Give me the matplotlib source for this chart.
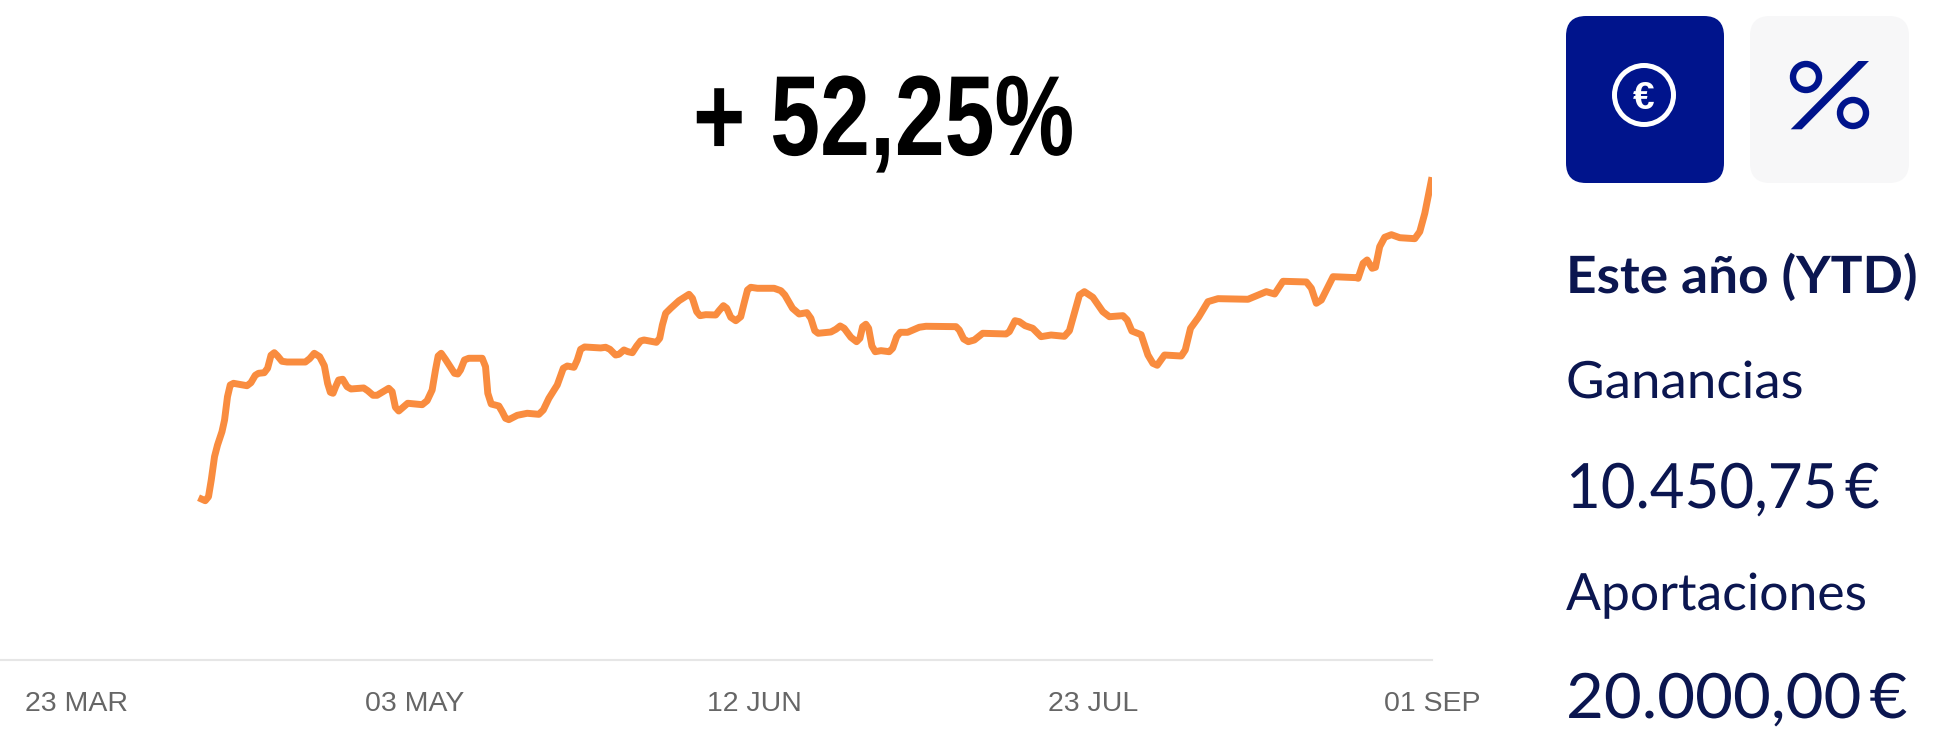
import matplotlib
matplotlib.use("Agg")
import matplotlib.pyplot as plt
from matplotlib.patches import Circle, FancyBboxPatch, Polygon
from matplotlib.patheffects import AbstractPathEffect
from matplotlib.transforms import Affine2D

# days since 23 MAR
days = [
    14.63, 15.43, 15.82, 16.15, 16.54, 16.90, 17.43, 17.74, 18.09, 18.42, 18.81, 20.42, 20.89, 21.41, 21.80,
    22.48, 22.88, 23.29, 23.68, 24.08, 24.60, 25.20, 27.39, 27.90, 28.46, 29.10, 29.66, 30.05, 30.38, 30.70,
    31.01, 31.37, 31.85, 32.38, 32.85, 34.36, 34.84, 35.48, 35.96, 37.35, 37.76, 38.15, 38.55, 39.07, 39.62,
    41.35, 41.94, 42.54, 42.94, 43.26, 43.62, 44.13, 45.21, 45.60, 45.93, 46.40, 46.92, 48.52, 48.92, 49.19,
    49.60, 50.51, 50.91, 51.31, 51.70, 52.71, 53.90, 55.29, 55.82, 56.49, 57.49, 58.21, 58.69, 59.48, 59.88,
    60.28, 60.76, 62.67, 63.27, 63.78, 64.46, 64.86, 65.46, 65.94, 66.46, 66.98, 67.45, 67.85, 69.33, 69.73,
    70.05, 70.44, 71.04, 72.04, 73.23, 73.64, 74.15, 74.55, 75.23, 76.42, 76.82, 77.34, 77.74, 78.22, 78.82,
    79.41, 79.81, 80.22, 80.61, 81.41, 83.40, 84.20, 84.68, 85.60, 86.39, 87.31, 87.79, 88.26, 88.66, 90.18,
    90.78, 91.29, 91.77, 92.57, 93.25, 93.65, 93.97, 94.36, 94.69, 95.08, 95.48, 96.16, 97.15, 97.56, 98.04,
    98.47, 99.35, 100.74, 101.54, 105.13, 105.52, 106.05, 106.60, 107.32, 108.32, 111.11, 111.50, 112.18,
    112.70, 113.38, 114.30, 115.29, 116.49, 118.08, 118.68, 119.88, 120.47, 121.48, 122.67, 123.46, 125.07,
    125.58, 126.14, 127.25, 128.06, 128.65, 129.17, 130.04, 132.04, 132.52, 133.15, 134.11, 135.23, 136.43,
    140.02, 142.20, 143.20, 144.20, 146.99, 147.59, 148.18, 148.78, 150.18, 152.97, 153.17, 153.77, 154.25,
    154.85, 155.24, 155.75, 156.35, 157.15, 158.15, 159.94, 160.54, 161.14, 162.00,
]
# rentabilidad acumulada, %
returns = [
    0.05, -0.44, 0.21, 2.93, 6.73, 8.63, 10.80, 12.71, 16.50, 18.41, 18.68, 18.29, 18.78, 19.99, 20.31,
    20.41, 21.13, 23.25, 23.67, 23.13, 22.27, 22.15, 22.15, 22.69, 23.57, 23.02, 21.55, 18.68, 17.22, 17.06,
    18.13, 19.22, 19.34, 18.13, 17.76, 17.92, 17.48, 16.73, 16.73, 17.87, 17.32, 14.78, 14.17, 14.78, 15.43,
    15.20, 15.85, 17.59, 20.85, 23.13, 23.57, 22.59, 20.31, 20.20, 20.85, 22.48, 22.76, 22.76, 21.39, 17.06,
    15.31, 14.99, 14.06, 12.98, 12.76, 13.47, 13.80, 13.63, 14.34, 16.24, 18.41, 21.13, 21.50, 21.29, 22.48,
    24.22, 24.60, 24.44, 24.55, 24.22, 23.29, 23.41, 24.11, 23.83, 23.67, 24.76, 25.58, 25.74, 25.36, 26.02,
    28.18, 30.09, 30.90, 32.14, 33.18, 32.53, 30.35, 29.70, 29.86, 29.81, 30.51, 31.33, 30.90, 29.44, 28.88,
    29.53, 31.72, 33.88, 34.32, 34.16, 34.16, 33.77, 33.07, 30.90, 29.97, 30.19, 29.27, 27.25, 26.83, 27.04,
    27.48, 28.02, 27.64, 26.18, 25.46, 26.02, 27.90, 28.30, 27.64, 24.76, 23.83, 24.00, 23.83, 24.39, 26.28,
    26.99, 26.99, 27.81, 27.97, 27.91, 27.37, 25.90, 25.46, 25.74, 26.83, 26.72, 27.09, 28.88,
    28.72, 28.07, 27.64, 26.28, 26.55, 26.34, 27.25, 33.07, 33.61, 32.69, 30.35, 29.53, 29.70,
    29.00, 27.20, 26.60, 23.29, 21.94, 21.62, 23.29, 23.13, 24.11, 27.64, 29.44, 31.98, 32.47,
    32.37, 33.61, 33.23, 35.30, 35.19, 34.16, 31.72, 32.25, 36.05, 35.89, 35.79, 38.23, 38.77,
    37.42, 37.58, 40.94, 42.47, 42.89, 42.40, 42.24, 43.38, 46.38, 52.25,
]
tick_days = [0, 40.5, 81, 121.5, 162]
tick_labels = ["23 MAR", "03 MAY", "12 JUN", "23 JUL", "01 SEP"]

title = "+ 52,25%"
panel_title = "Este año (YTD)"
label_gain = "Ganancias"
value_gain = "10.450,75\u2009€"
label_contrib = "Aportaciones"
value_contrib = "20.000,00\u2009€"

NAVY = "#00148c"
INK = "#0b1650"
W, H = 1942, 730


class Stretch(AbstractPathEffect):
    """Escala el texto en horizontal, para las fuentes estrechas que no tenemos."""

    def __init__(self, sx):
        super().__init__()
        self.sx = sx

    def draw_path(self, renderer, gc, tpath, affine, rgbFace=None):
        renderer.draw_path(gc, tpath, Affine2D().scale(self.sx, 1) + affine, rgbFace)


fig = plt.figure(figsize=(W / 100, H / 100), dpi=100, facecolor="white")

# grafico: de 0 a 1432 px en x, de 0 a 660 px en y
ax = fig.add_axes([0, 1 - 660 / H, 1432 / W, 660 / H])
ax.plot(days, returns, color="#f98c3f", lw=5.0, solid_joinstyle="round", solid_capstyle="butt", zorder=3)
ax.set_xlim(-9.09, 162.0)
ax.set_ylim(-26.39, 81.12)
ax.set_yticks([])
ax.set_xticks(tick_days)
ax.set_xticklabels(tick_labels, family="Liberation Sans", fontsize=20.5, color="#666666")
ax.tick_params(axis="x", length=0, pad=22)
for s in ["top", "left", "right"]:
    ax.spines[s].set_visible(False)
ax.spines["bottom"].set_color("#e6e6e6")
ax.spines["bottom"].set_linewidth(1.5)
ax.patch.set_alpha(0)

# capa en pixeles para el panel derecho
ov = fig.add_axes([0, 0, 1, 1], facecolor="none")
ov.set_xlim(0, W)
ov.set_ylim(H, 0)
ov.axis("off")

ov.text(693, 155, title, family="Liberation Sans", weight="bold", fontsize=82, color="black",
        va="baseline", path_effects=[Stretch(0.787)])

# botones
ov.add_patch(FancyBboxPatch((1586, 36), 118, 127, boxstyle="round,pad=20,rounding_size=20", fc=NAVY, ec="none"))
ov.add_patch(FancyBboxPatch((1770, 36), 119, 127, boxstyle="round,pad=20,rounding_size=20", fc="#f7f7f8", ec="none"))
ov.add_patch(Circle((1644, 95), 29.5, fc="none", ec="white", lw=3.6))
ov.text(1644, 95, "€", family="Liberation Sans", weight="bold", fontsize=28, color="white", ha="center", va="center_baseline")
ov.add_patch(Circle((1806, 77), 13, fc="none", ec=NAVY, lw=4.6))
ov.add_patch(Circle((1853, 113), 13, fc="none", ec=NAVY, lw=4.6))
ov.add_patch(Polygon([(1790.7, 129.3), (1801.7, 129.3), (1869, 61), (1858.3, 61)], fc=NAVY, ec="none"))

# textos del panel
ov.text(1566, 293, panel_title, family="Lato", weight="bold", fontsize=37, color=INK, va="baseline",
        path_effects=[Stretch(1.035)])
ov.text(1566, 398, label_gain, family="Lato", weight="normal", fontsize=37, color=INK, va="baseline",
        path_effects=[Stretch(1.03)])
ov.text(1566, 508, value_gain, family=["Lato", "DejaVu Sans"], weight="normal", fontsize=45, color=INK, va="baseline",
        path_effects=[Stretch(0.96)])
ov.text(1566, 610, label_contrib, family="Lato", weight="normal", fontsize=37, color=INK, va="baseline",
        path_effects=[Stretch(1.005)])
ov.text(1566, 718, value_contrib, family=["Lato", "DejaVu Sans"], weight="normal", fontsize=45, color=INK, va="baseline",
        path_effects=[Stretch(1.045)])

fig.savefig("out.png", dpi=100)
